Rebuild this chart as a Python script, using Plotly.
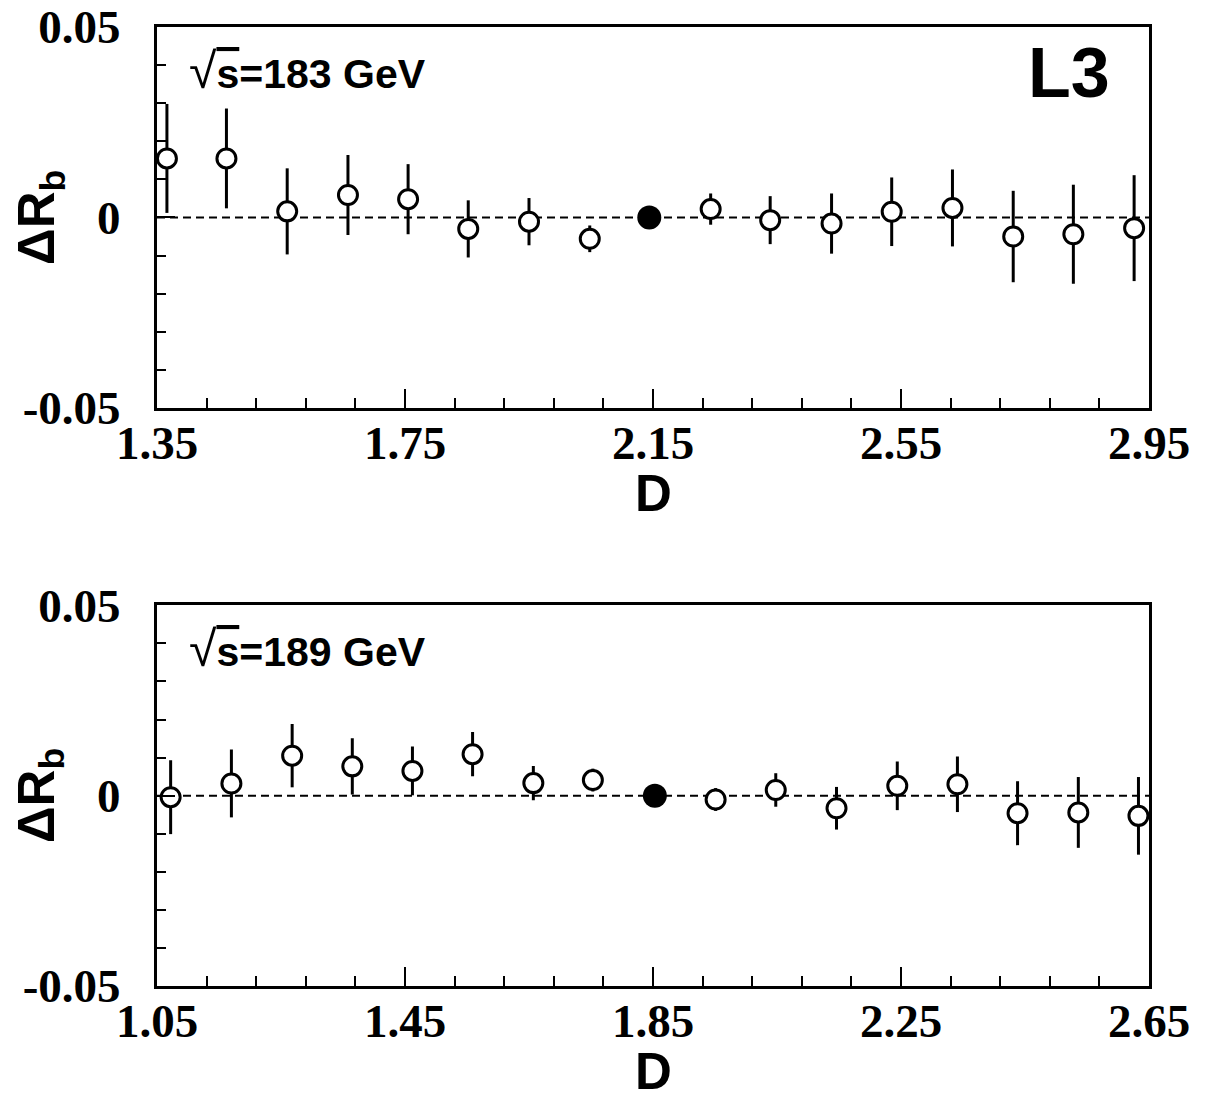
import numpy as np
import plotly.graph_objects as go

# ---------------- data ----------------
top_d = [1.366, 1.462, 1.560, 1.658, 1.755, 1.852, 1.950, 2.048,
         2.243, 2.339, 2.438, 2.535, 2.633, 2.731, 2.828, 2.926]
top_val = [0.0155, 0.0155, 0.0016, 0.0059, 0.0048, -0.0030, -0.0011, -0.0056,
           0.0022, -0.0007, -0.0016, 0.0015, 0.0025, -0.0050, -0.0044, -0.0028]
top_err = [0.0143, 0.0131, 0.0113, 0.0105, 0.0092, 0.0075, 0.0062, 0.0035,
           0.0041, 0.0063, 0.0079, 0.0090, 0.0101, 0.0120, 0.0130, 0.0139]
top_ref_d = [2.144]
top_ref_val = [0.0]

bot_d = [1.072, 1.170, 1.268, 1.365, 1.462, 1.559, 1.657, 1.753,
         1.951, 2.048, 2.146, 2.244, 2.341, 2.438, 2.536, 2.633]
bot_val = [-0.0004, 0.0032, 0.0105, 0.0077, 0.0065, 0.0109, 0.0033, 0.0041,
           -0.0010, 0.0015, -0.0033, 0.0026, 0.0030, -0.0046, -0.0044, -0.0053]
bot_err = [0.0097, 0.0089, 0.0083, 0.0074, 0.0064, 0.0058, 0.0045, 0.0030,
           0.0030, 0.0044, 0.0056, 0.0064, 0.0073, 0.0084, 0.0093, 0.0102]
bot_ref_d = [1.853]
bot_ref_val = [0.0]

top_xrange = [1.35, 2.95]
bot_xrange = [1.05, 2.65]
yrange = [-0.05, 0.05]
y_tickvals = [-0.05, 0.0, 0.05]
y_ticktext = ["-0.05", "0", "0.05"]
top_energy = "183 GeV"
bot_energy = "189 GeV"
exp_label = "L3"
x_title = "D"
y_title = "ΔR<sub>b</sub>"

# ---------------- styling ----------------
SERIF = "Liberation Serif"
SANS = "Liberation Sans"


def energy_text(e):
    return ('<span style="font-size:50px;font-weight:normal">√</span>'
            '<span style="text-decoration:overline">s</span>=' + e)


fig = go.Figure()


def add_panel(xa, ya, d, v, e, rd, rv):
    fig.add_trace(go.Scatter(
        x=d, y=v, mode="markers", xaxis=xa, yaxis=ya,
        marker=dict(symbol="circle", size=19, color="white",
                    line=dict(color="black", width=3)),
        error_y=dict(type="data", array=e, visible=True, width=0,
                     thickness=3, color="black"),
        cliponaxis=False, showlegend=False))
    fig.add_trace(go.Scatter(
        x=rd, y=rv, mode="markers", xaxis=xa, yaxis=ya,
        marker=dict(symbol="circle", size=24, color="black",
                    line=dict(color="black", width=0)),
        cliponaxis=False, showlegend=False))


add_panel("x", "y", top_d, top_val, top_err, top_ref_d, top_ref_val)
add_panel("x2", "y2", bot_d, bot_val, bot_err, bot_ref_d, bot_ref_val)

TICKFONT = dict(family=SERIF, size=47, color="black", weight="bold")


def xaxis_cfg(rng, anchor):
    return dict(
        range=rng, anchor=anchor, domain=[0, 1],
        tickmode="linear", tick0=rng[0], dtick=0.4, tickformat=".2f",
        ticks="inside", ticklen=19, tickwidth=1.5, tickcolor="black",
        minor=dict(tickmode="linear", tick0=rng[0], dtick=0.08,
                   ticks="inside", ticklen=10, tickwidth=1.5,
                   tickcolor="black"),
        showline=True, linecolor="black", linewidth=3, mirror=True,
        showgrid=False, zeroline=False,
        tickfont=TICKFONT, ticklabelstandoff=-8, ticklabeloverflow="allow",
    )


def yaxis_cfg(domain, anchor):
    return dict(
        range=yrange, anchor=anchor, domain=domain,
        tickmode="array", tickvals=y_tickvals, ticktext=y_ticktext,
        ticks="inside", ticklen=18, tickwidth=1.5, tickcolor="black",
        minor=dict(tickmode="linear", tick0=-0.05, dtick=0.01,
                   ticks="inside", ticklen=9, tickwidth=1.5,
                   tickcolor="black"),
        showline=True, linecolor="black", linewidth=3, mirror=True,
        showgrid=False, zeroline=False,
        tickfont=TICKFONT, ticklabelstandoff=24, ticklabeloverflow="allow",
    )


# page body margin is removed (see post_script) so the figure fills the window
W, H = 1208, 1100
ml, mt = 156.5, 27.4
right_px, bottom_px = 1149.1, 985.8
top_panel_bottom, bot_panel_top = 408.1, 605.4
mr, mb = W - right_px, H - bottom_px
ph = H - mt - mb
top_dom = [(bottom_px - top_panel_bottom) / ph, 1.0]
bot_dom = [0.0, (bottom_px - bot_panel_top) / ph]

fig.update_layout(
    width=W, height=H,
    margin=dict(l=ml, r=mr, t=mt, b=mb, autoexpand=False),
    paper_bgcolor="white", plot_bgcolor="white",
    xaxis=xaxis_cfg(top_xrange, "y"),
    yaxis=yaxis_cfg(top_dom, "x"),
    xaxis2=xaxis_cfg(bot_xrange, "y2"),
    yaxis2=yaxis_cfg(bot_dom, "x2"),
    showlegend=False,
)

TITLEFONT = dict(family=SANS, size=51, color="black", weight="bold")

for xr, yr, en in (("x", "y", top_energy), ("x2", "y2", bot_energy)):
    fig.add_shape(type="line", xref=f"{xr} domain", yref=yr,
                  x0=0, x1=1, y0=0, y1=0, layer="below",
                  line=dict(color="black", width=2, dash="8px,5px"))
    fig.add_annotation(text=energy_text(en), xref=f"{xr} domain",
                       yref=f"{yr} domain",
                       x=0.030, y=0.885, xanchor="left", yanchor="middle",
                       showarrow=False,
                       font=dict(family=SANS, size=41, color="black",
                                 weight="bold"))
    fig.add_annotation(text=x_title, xref=f"{xr} domain", yref=f"{yr} domain",
                       x=0.5, y=-0.224, xanchor="center", yanchor="middle",
                       showarrow=False, font=TITLEFONT)
    fig.add_annotation(text=y_title, xref=f"{xr} domain", yref=f"{yr} domain",
                       x=-0.1175, y=0.5, xanchor="center", yanchor="middle",
                       textangle=-90, showarrow=False, font=TITLEFONT)

fig.add_annotation(text=exp_label, xref="x domain", yref="y domain",
                   x=0.963, y=0.88, xanchor="right", yanchor="middle",
                   showarrow=False,
                   font=dict(family=SANS, size=70, color="black",
                             weight="bold"))

fig.write_html("out.html",
               config={"displayModeBar": False},
               post_script="document.body.style.margin='0px';")
